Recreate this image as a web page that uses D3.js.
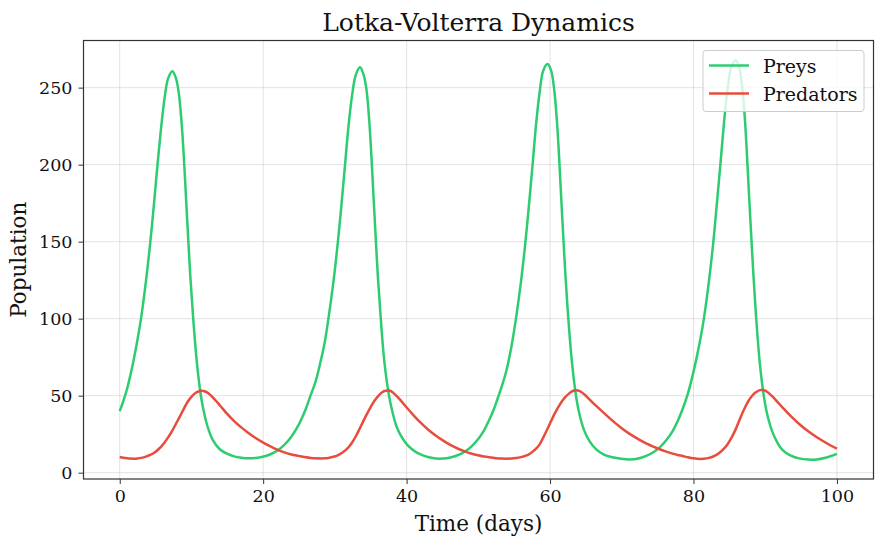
<!DOCTYPE html>
<html>
<head>
<meta charset="utf-8">
<script src="https://cdn.jsdelivr.net/npm/d3@7"></script>
<style>
  body { margin: 0; background: #fff; }
  text { font-family: "DejaVu Serif", serif; fill: #111; }
</style>
</head>
<body>
<div id="chart" style="width:878px;height:541px"></div>
<script>
// time grid (days), denser around the prey peaks
const days = [
  0, 0.5, 1, 1.5, 2, 2.5, 3, 3.65, 4.25, 4.75, 5.25, 5.75, 6.25, 6.75, 7.35, 7.85, 8.25, 8.65, 8.95, 9.25,
  9.55, 9.85, 10.25, 10.75, 11.35, 11.85, 12.35, 12.95, 13.95, 14.95, 15.95, 16.95, 17.95, 18.95, 19.95, 20.95,
  21.95, 22.95, 23.95, 24.95,
  25.5, 26.0, 26.6, 27.3, 28.0, 28.6, 29.1, 29.8, 30.4, 30.9, 31.4, 31.9, 32.4, 32.9, 33.5, 34.0, 34.4, 34.8,
  35.1, 35.4, 35.7, 36.0, 36.4, 36.9, 37.55, 38.05, 38.6, 39.2, 40.1, 41.1, 42.1, 43.1, 44.1, 45.1, 46.1, 47.1,
  48.1, 49.1, 50.1, 50.8, 51.5, 52.15,
  52.5, 53.2, 53.9, 54.6, 55.25, 55.95, 56.55, 57.05, 57.55, 58.05, 58.55, 59.05, 59.65, 60.15, 60.55, 60.95,
  61.25, 61.55, 61.85, 62.15, 62.55, 63.05, 63.65, 64.15, 64.8, 65.5, 66.4, 67.5, 68.7, 69.9, 71.1, 72.3, 73.4,
  74.4, 75.3, 76.2, 77.1, 77.8, 78.5,
  79.2, 79.9, 80.5, 81.05, 81.45, 82.15, 82.75, 83.25, 83.75, 84.25, 84.75, 85.25, 85.85, 86.35, 86.75, 87.15,
  87.45, 87.75, 88.05, 88.35, 88.75, 89.25, 89.85, 90.35, 91.0, 91.7, 92.4, 93.5, 94.7, 96.0, 97.2, 98.4, 99.2, 100
]

const preys = [
  40, 46.5, 54, 63.5, 74.5, 87, 101, 124, 149, 173, 199, 223, 243, 256, 260.6, 256, 246, 226, 204, 178,
  152, 127, 100, 72, 49, 37, 28.5, 21.5, 15.2, 12.3, 10.6, 9.7, 9.3, 9.5, 10.3, 11.8,
  14.2, 18.0, 23.5, 31,
  36.5, 42, 50, 59, 72, 85, 100, 124, 149, 173, 199, 225, 245, 258, 263.2, 258.5, 249, 228,
  205, 178, 152, 127, 100, 72, 50, 39, 30, 24, 18, 14, 11.5, 10.0, 9.2, 9.2, 9.9, 11.3,
  13.6, 17.3, 22.5, 27.5, 34, 41,
  45.5, 55, 66, 81.5, 100, 124, 149, 173, 199, 226, 247, 261, 265.3, 261, 250, 229,
  206, 179, 153, 128, 100, 72, 49, 37, 27, 20.5, 15.3, 11.8, 10.0, 9.0, 8.6, 9.2, 10.9,
  13.3, 16.4, 21, 27, 33.5, 41.5,
  51, 63.5, 76, 89, 100, 124, 149, 174, 200, 227, 249, 263, 268, 263.5, 252, 231,
  207, 180, 154, 129, 100, 71, 48.5, 36.5, 26.5, 19.5, 14.8, 11.2, 9.3, 8.5, 8.6, 9.7, 10.8, 12.2
]

const predators = [
  10.2, 9.7, 9.35, 9.15, 9.1, 9.25, 9.6, 10.4, 11.5, 12.8, 14.6, 16.8, 19.6, 22.9, 27.5, 31.8, 35.3, 38.9, 41.6, 44.2,
  46.5, 48.4, 50.5, 52.3, 53.2, 52.9, 51.6, 49, 43.8, 38.3, 33.5, 29.4, 25.8, 22.5, 19.7, 17.2,
  15.0, 13.2, 11.8, 10.9,
  10.4, 10.0, 9.6, 9.3, 9.2, 9.3, 9.6, 10.3, 11.3, 12.6, 14.3, 16.5, 19.6, 23.5, 29, 33.8, 37.5, 41,
  43.5, 45.8, 47.8, 49.5, 51.5, 53, 53.3, 52.2, 49.8, 46.8, 41.8, 36.6, 31.8, 27.6, 24.0, 20.8, 18.0, 15.7,
  13.8, 12.3, 11.1, 10.5, 10.0, 9.6,
  9.4, 9.2, 9.1, 9.2, 9.5, 10.1, 10.9, 11.9, 13.5, 15.6, 18.4, 22.8, 28.5, 33.5, 37.5, 41,
  43.4, 45.6, 47.5, 49.2, 51, 52.8, 53.6, 53, 50.8, 47.6, 43.5, 38.8, 33.8, 29.2, 25.2, 21.8, 19.0,
  16.9, 15.2, 13.7, 12.4, 11.5, 10.8,
  10.0, 9.4, 9.0, 8.9, 9.0, 9.6, 10.5, 11.7, 13.4, 15.6, 18.5, 22.3, 27.8, 33.5, 38, 42,
  44.8, 47.2, 49.2, 50.8, 52.4, 53.6, 53.5, 52.2, 49.5, 46.0, 42.4, 37.0, 31.8, 26.9, 23.0, 19.6, 17.5, 15.6
]

const xTicks = [0, 20, 40, 60, 80, 100]
const yTicks = [0, 50, 100, 150, 200, 250]
const seriesNames = ["Preys", "Predators"]
const seriesColors = ["#2ecc71", "#e74c3c"]

function Chart(pid) {
  const parent = d3.select(pid)
  const width = 878
  const height = 541
  const box = { left: 83.5, right: 873.5, top: 40.5, bottom: 479 }

  const svg = parent.append("svg")
    .attr("viewBox", [0, 0, width, height])
    .attr("width", width)
    .attr("height", height)

  svg.append("rect").attr("width", width).attr("height", height).attr("fill", "#fff")

  const x = d3.scaleLinear().domain([-5.05, 105.1]).range([box.left, box.right])
  const y = d3.scaleLinear().domain([-4.1, 280.6]).range([box.bottom, box.top])

  // grid
  const grid = svg.append("g").classed("grid", true)
  grid.selectAll("line.gx").data(xTicks).join("line")
    .attr("x1", d => x(d)).attr("x2", d => x(d))
    .attr("y1", box.top).attr("y2", box.bottom)
    .attr("stroke", "#b0b0b0").attr("stroke-opacity", 0.35).attr("stroke-width", 1)
  grid.selectAll("line.gy").data(yTicks).join("line")
    .attr("y1", d => y(d)).attr("y2", d => y(d))
    .attr("x1", box.left).attr("x2", box.right)
    .attr("stroke", "#b0b0b0").attr("stroke-opacity", 0.35).attr("stroke-width", 1)

  // axes
  svg.append("g").classed("axis x", true)
    .attr("transform", `translate(0,${box.bottom})`)
    .call(d3.axisBottom(x).tickValues(xTicks).tickSize(5).tickPadding(6).tickSizeOuter(0))
  svg.append("g").classed("axis y", true)
    .attr("transform", `translate(${box.left},0)`)
    .call(d3.axisLeft(y).tickValues(yTicks).tickSize(5).tickPadding(6).tickSizeOuter(0))
  svg.selectAll(".axis .domain").remove()
  svg.selectAll(".axis line").attr("stroke", "#333").attr("stroke-width", 1)
  svg.selectAll(".axis text")
    .style("font-family", '"DejaVu Serif", serif')
    .style("font-size", "17.5px").attr("fill", "#111")

  // lines
  const rows = days.map((t, i) => ({ t, prey: preys[i], pred: predators[i] }))
  const line = key => d3.line()
    .x(d => x(d.t))
    .y(d => y(d[key]))
    .curve(d3.curveCatmullRom.alpha(0.5))

  const plot = svg.append("g").classed("plot", true)
  plot.append("path").datum(rows)
    .attr("d", line("prey"))
    .attr("fill", "none").attr("stroke", seriesColors[0]).attr("stroke-width", 2.5)
  plot.append("path").datum(rows)
    .attr("d", line("pred"))
    .attr("fill", "none").attr("stroke", seriesColors[1]).attr("stroke-width", 2.5)

  // frame
  svg.append("rect")
    .attr("x", box.left).attr("y", box.top)
    .attr("width", box.right - box.left).attr("height", box.bottom - box.top)
    .attr("fill", "none").attr("stroke", "#333").attr("stroke-width", 1.2)

  // legend
  const legend = svg.append("g").classed("legend", true)
  legend.append("rect")
    .attr("x", 703).attr("y", 50.5).attr("width", 161).attr("height", 61).attr("rx", 3)
    .attr("fill", "#fff").attr("fill-opacity", 0.8)
    .attr("stroke", "#ccc").attr("stroke-width", 1)
  seriesNames.forEach((name, i) => {
    const ly = 65.5 + i * 28
    legend.append("line")
      .attr("x1", 709).attr("x2", 749).attr("y1", ly).attr("y2", ly)
      .attr("stroke", seriesColors[i]).attr("stroke-width", 2.5)
    legend.append("text")
      .attr("x", 763).attr("y", ly + 7)
      .style("font-size", "19px")
      .text(name)
  })

  // titles
  svg.append("text")
    .attr("x", (box.left + box.right) / 2).attr("y", 31)
    .attr("text-anchor", "middle").style("font-size", "25px")
    .text("Lotka-Volterra Dynamics")
  svg.append("text")
    .attr("x", (box.left + box.right) / 2).attr("y", 531)
    .attr("text-anchor", "middle").style("font-size", "21.5px")
    .text("Time (days)")
  svg.append("text")
    .attr("transform", `translate(26,${(box.top + box.bottom) / 2}) rotate(-90)`)
    .attr("text-anchor", "middle").style("font-size", "21.5px")
    .text("Population")
}

Chart("#chart")
</script>
</body>
</html>
